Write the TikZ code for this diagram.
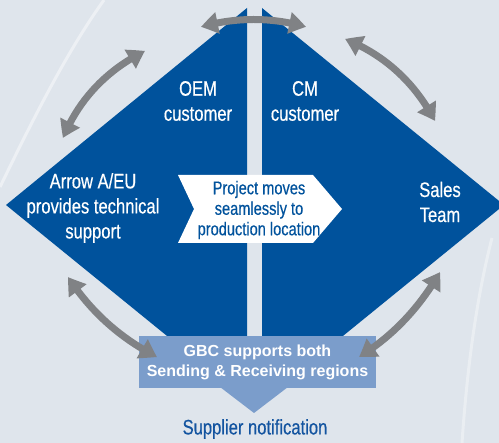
\documentclass[tikz,border=0pt]{standalone}
\usepackage{fontspec}
\newfontfamily\condf[FakeStretch=0.79,FakeBold=0.4]{Liberation Sans}
\newfontfamily\gbcf{Liberation Sans}
\usetikzlibrary{arrows.meta,bending}
\definecolor{bgc}{HTML}{DFE5EC}
\definecolor{dblue}{HTML}{00529C}
\definecolor{lblue}{HTML}{7B9DCB}
\definecolor{arrgray}{HTML}{808285}
\definecolor{tblue}{HTML}{1354A0}
\begin{document}
\begin{tikzpicture}[x=1pt,y=-1pt,
  dual/.style={draw=arrgray, line width=7pt,
    {Triangle[length=17pt,width=21pt,bend]}-{Triangle[length=17pt,width=21pt,bend]}},
  lbl/.style={text=white, font=\condf\fontsize{21}{25}\selectfont, align=center, inner sep=0pt},
  chevtext/.style={text=dblue, font=\condf\fontsize{18.5}{20.5}\selectfont, align=center, inner sep=0pt},
  gbcbox/.style={fill=lblue, text=white, font=\gbcf\bfseries\fontsize{16}{20}\selectfont,
    align=center, minimum width=237pt, minimum height=52pt, inner sep=0pt},
  deco/.style={draw=white, opacity=0.45, line width=3pt}]
\useasboundingbox (0,0) rectangle (499,443);
\clip (0,0) rectangle (499,443);
% background
\fill[bgc] (0,0) rectangle (499,443);
\draw[deco] (0,187) .. controls (35,115) and (68,50) .. (104,0);
\draw[deco, opacity=0.35] (492,238) .. controls (476,300) and (467,370) .. (462,443);
% blue halves
\fill[dblue] (247,8) -- (6,205) -- (172,340) -- (247,340) -- cycle;
\fill[dblue] (262,8) -- (504,205) -- (338,340) -- (262,340) -- cycle;
% chevron
\fill[white] (178,175) -- (313,175) -- (342,209) -- (313,243) -- (178,243) -- (194,209) -- cycle;
% labels
\node[lbl] (oem) at (198,101) {OEM\\customer};
\node[lbl] (cm) at (305,101) {CM\\customer};
\node[lbl] (arrow) at (93,208) {Arrow A/EU\\provides technical\\support};
\node[lbl] (sales) at (440,202) {Sales\\Team};
\node[chevtext] (proj) at (259,210) {Project moves\\seamlessly to\\production location};
% GBC box with pointer
\fill[lblue] (220,387) -- (288,387) -- (254,413) -- cycle;
\node[gbcbox] (gbc) at (257.5,362) {GBC supports both\\Sending \& Receiving regions};
\node[text=tblue, font=\condf\fontsize{21}{25}\selectfont, inner sep=0pt] (supp) at (255,429) {Supplier notification};
% arrow endpoints
\coordinate (t1) at (201,27); \coordinate (t2) at (306,27);
\coordinate (ul1) at (63,138); \coordinate (ul2) at (145,51);
\coordinate (ur1) at (345,39); \coordinate (ur2) at (435,121);
\coordinate (ll1) at (68,277); \coordinate (ll2) at (157,357);
\coordinate (lr1) at (359,357); \coordinate (lr2) at (440,272);
% double arrows
\draw[dual] (t1) .. controls (235,17) and (272,17) .. (t2);
\draw[dual] (ul1) .. controls (79,99) and (107,70) .. (ul2);
\draw[dual] (ur1) .. controls (385,55) and (415,83) .. (ur2);
\draw[dual] (ll1) .. controls (91,312) and (120,338) .. (ll2);
\draw[dual] (lr1) .. controls (393,336) and (420,307) .. (lr2);
\end{tikzpicture}
\end{document}
